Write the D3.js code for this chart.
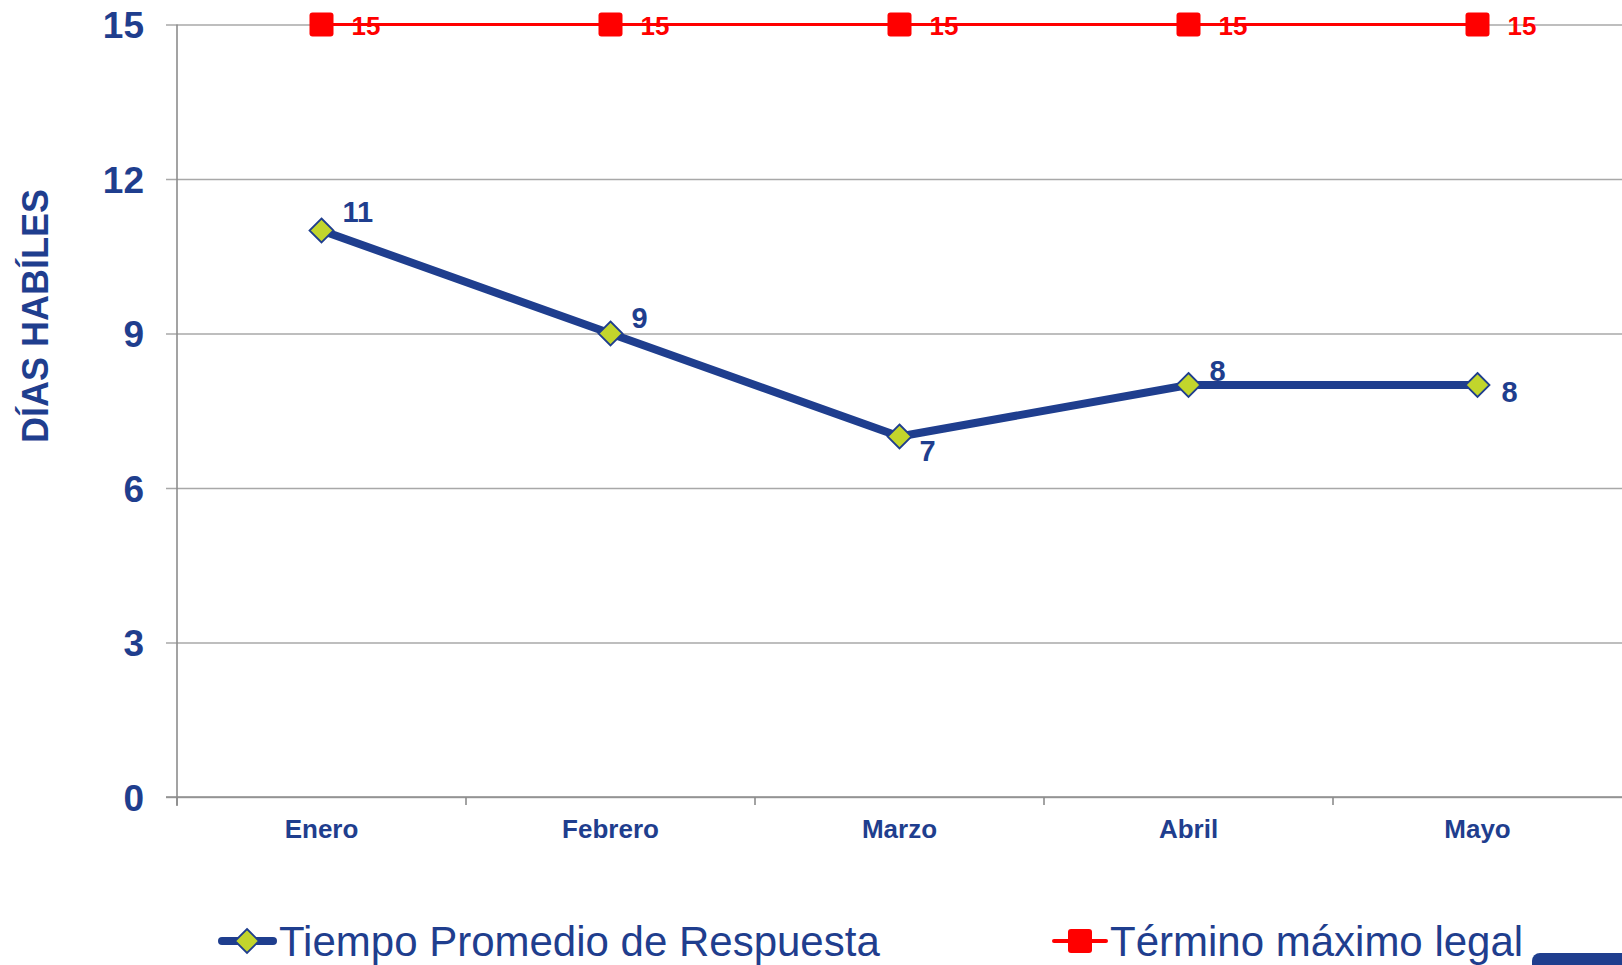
<!DOCTYPE html>
<html>
<head>
<meta charset="utf-8">
<script src="https://cdn.jsdelivr.net/npm/d3@7/dist/d3.min.js"></script>
<style>
  html, body { margin: 0; padding: 0; background: #ffffff; overflow: hidden; }
  svg { display: block; }
  text { font-family: "Liberation Sans", Arial, sans-serif; }
</style>
</head>
<body>
<svg id="chart" width="1622" height="965"></svg>
<script>
// ---- data ----
const categories = ["Enero", "Febrero", "Marzo", "Abril", "Mayo"];
const tiempoPromedio = [11, 9, 7, 8, 8];
const terminoMaximo = [15, 15, 15, 15, 15];
const yTicks = [0, 3, 6, 9, 12, 15];
const seriesNames = ["Tiempo Promedio de Respuesta", "Término máximo legal"];
const yTitle = "DÍAS HABÍLES";
// label placement per point for the blue series: [dx, dy]
const blueLabelOffsets = [[21, -9], [21, -6], [20, 24], [21, -4], [24, 17]];

(function () {
const BLUE = "#1f3e8e";
const RED = "#ff0000";
const GREEN = "#c2d52c";
const GRID = "#a8a8a8";
const AXIS = "#8c8c8c";

const svg = d3.select("#chart");
const mLeft = 177, mRight = 1622, mTop = 24.5, mBottom = 797;

const x = d3.scaleBand().domain(categories).range([mLeft, mRight]);
const y = d3.scaleLinear().domain([0, 15]).range([mBottom, mTop]);
const cx = c => x(c) + x.bandwidth() / 2;

// gridlines
const grid = svg.append("g")
  .attr("transform", `translate(166,0)`)
  .call(d3.axisLeft(y).tickValues(yTicks).tickSize(-(mRight - 166)).tickFormat(""));
grid.select(".domain").remove();
grid.selectAll(".tick line").attr("stroke", GRID).attr("stroke-width", 1.6);

// y axis labels + vertical line
const yAxis = svg.append("g")
  .attr("transform", `translate(${mLeft},0)`)
  .call(d3.axisLeft(y).tickValues(yTicks).tickSize(0).tickPadding(33));
yAxis.select(".domain").remove();
yAxis.selectAll(".tick text")
  .attr("fill", BLUE)
  .attr("font-size", 37)
  .attr("font-weight", "bold")
  .attr("dy", "0.36em");

svg.append("line")
  .attr("x1", mLeft).attr("x2", mLeft)
  .attr("y1", y(15)).attr("y2", mBottom + 9)
  .attr("stroke", AXIS).attr("stroke-width", 1.6);

// x axis
const xAxis = svg.append("g")
  .attr("transform", `translate(0,${mBottom})`)
  .call(d3.axisBottom(x).tickSize(0).tickPadding(0));
xAxis.select(".domain").remove();
xAxis.selectAll(".tick text")
  .attr("fill", BLUE)
  .attr("font-size", 26)
  .attr("font-weight", "bold")
  .attr("y", 41)
  .attr("dy", 0)
  .attr("dx", 0);

svg.append("line")
  .attr("x1", 166).attr("x2", mRight)
  .attr("y1", mBottom).attr("y2", mBottom)
  .attr("stroke", AXIS).attr("stroke-width", 1.6);

svg.append("g").selectAll("line")
  .data(categories)
  .join("line")
  .attr("x1", d => x(d)).attr("x2", d => x(d))
  .attr("y1", mBottom).attr("y2", mBottom + 8)
  .attr("stroke", AXIS).attr("stroke-width", 1.6);

// y title
svg.append("text")
  .attr("transform", `translate(48,316) rotate(-90)`)
  .attr("text-anchor", "middle")
  .attr("fill", BLUE)
  .attr("font-size", 36)
  .attr("font-weight", "bold")
  .text(yTitle);

// red series
const redData = categories.map((c, i) => ({ c, v: terminoMaximo[i] }));
svg.append("path")
  .datum(redData)
  .attr("fill", "none")
  .attr("stroke", RED)
  .attr("stroke-width", 3)
  .attr("d", d3.line().x(d => cx(d.c)).y(d => y(d.v)));

svg.append("g").selectAll("rect")
  .data(redData)
  .join("rect")
  .attr("x", d => cx(d.c) - 12).attr("y", d => y(d.v) - 12)
  .attr("width", 24).attr("height", 24)
  .attr("rx", 3)
  .attr("fill", RED);

svg.append("g").selectAll("text")
  .data(redData)
  .join("text")
  .attr("x", d => cx(d.c) + 30)
  .attr("y", d => y(d.v) + 10)
  .attr("fill", RED)
  .attr("font-size", 26)
  .attr("font-weight", "bold")
  .text(d => d.v);

// blue series
const blueData = categories.map((c, i) => ({ c, v: tiempoPromedio[i], o: blueLabelOffsets[i] }));
svg.append("path")
  .datum(blueData)
  .attr("fill", "none")
  .attr("stroke", BLUE)
  .attr("stroke-width", 8)
  .attr("stroke-linejoin", "round")
  .attr("d", d3.line().x(d => cx(d.c)).y(d => y(d.v)));

const diamond = (px, py, r) => `M${px},${py - r}L${px + r},${py}L${px},${py + r}L${px - r},${py}Z`;

svg.append("g").selectAll("path")
  .data(blueData)
  .join("path")
  .attr("d", d => diamond(cx(d.c), y(d.v), 12))
  .attr("fill", GREEN)
  .attr("stroke", BLUE)
  .attr("stroke-width", 1.8);

svg.append("g").selectAll("text")
  .data(blueData)
  .join("text")
  .attr("x", d => cx(d.c) + d.o[0])
  .attr("y", d => y(d.v) + d.o[1])
  .attr("fill", BLUE)
  .attr("font-size", 29)
  .attr("font-weight", "bold")
  .text(d => d.v);

// legend
const lg = svg.append("g");
lg.append("line")
  .attr("x1", 222).attr("x2", 273).attr("y1", 941).attr("y2", 941)
  .attr("stroke", BLUE).attr("stroke-width", 8).attr("stroke-linecap", "round");
lg.append("path")
  .attr("d", diamond(247, 941, 12))
  .attr("fill", GREEN).attr("stroke", BLUE).attr("stroke-width", 1.8);
lg.append("text")
  .attr("x", 279).attr("y", 956)
  .attr("fill", BLUE).attr("font-size", 42)
  .text(seriesNames[0]);

lg.append("line")
  .attr("x1", 1054).attr("x2", 1106).attr("y1", 941).attr("y2", 941)
  .attr("stroke", RED).attr("stroke-width", 4).attr("stroke-linecap", "round");
lg.append("rect")
  .attr("x", 1068).attr("y", 929).attr("width", 24).attr("height", 24).attr("rx", 3)
  .attr("fill", RED);
lg.append("text")
  .attr("x", 1110).attr("y", 956)
  .attr("fill", BLUE).attr("font-size", 42)
  .text(seriesNames[1]);

// decorative shape bottom-right
svg.append("rect")
  .attr("x", 1532).attr("y", 953).attr("width", 110).attr("height", 40).attr("rx", 8)
  .attr("fill", BLUE);
})();
</script>
</body>
</html>
